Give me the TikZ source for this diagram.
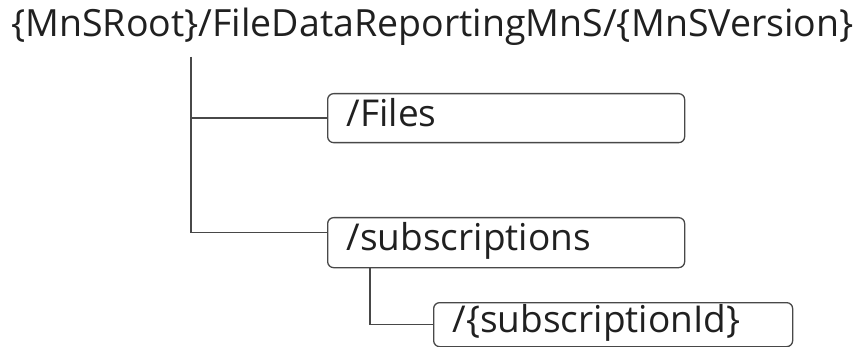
\documentclass[tikz,border=0pt]{standalone}
\usepackage{fontspec}
\setmainfont{Open Sans}
\definecolor{treeline}{RGB}{72,72,72}
\definecolor{treetext}{RGB}{32,32,32}

\begin{document}
\begin{tikzpicture}[x=1pt,y=-1pt,
  roottext/.style={inner sep=0pt,anchor=base,text=treetext,font=\fontsize{37.5}{40}\selectfont},
  dirbox/.style={draw=treeline,line width=1.3pt,rounded corners=6pt,anchor=north west,
    inner xsep=19pt,inner ysep=0pt,text height=26pt,text depth=10pt,align=left,
    text=treetext,font=\fontsize{37}{40}\selectfont},
  branch/.style={draw=treeline,line width=1.3pt}]
\useasboundingbox (0,0) rectangle (861,347);
\node [roottext] (root) at (432.5,37) {\{MnSRoot\}/FileDataReportingMnS/\{MnSVersion\}};
\coordinate (trunk) at (191,57);
\node [dirbox,minimum width=357pt,minimum height=49pt,text width=319pt] (files) at (327,93) {/Files};
\node [dirbox,minimum width=357pt,minimum height=50pt,text width=319pt] (subs) at (327,217) {/subscriptions};
\node [dirbox,minimum width=359pt,minimum height=44pt,text width=321pt] (subid) at (433,302) {/\{subscriptionId\}};
\draw [branch] (trunk) |- (files.west);
\draw [branch] (trunk) |- ([yshift=10pt]subs.west);
\draw [branch] ([xshift=43pt]subs.south west) |- (subid.west);
\end{tikzpicture}
\end{document}
